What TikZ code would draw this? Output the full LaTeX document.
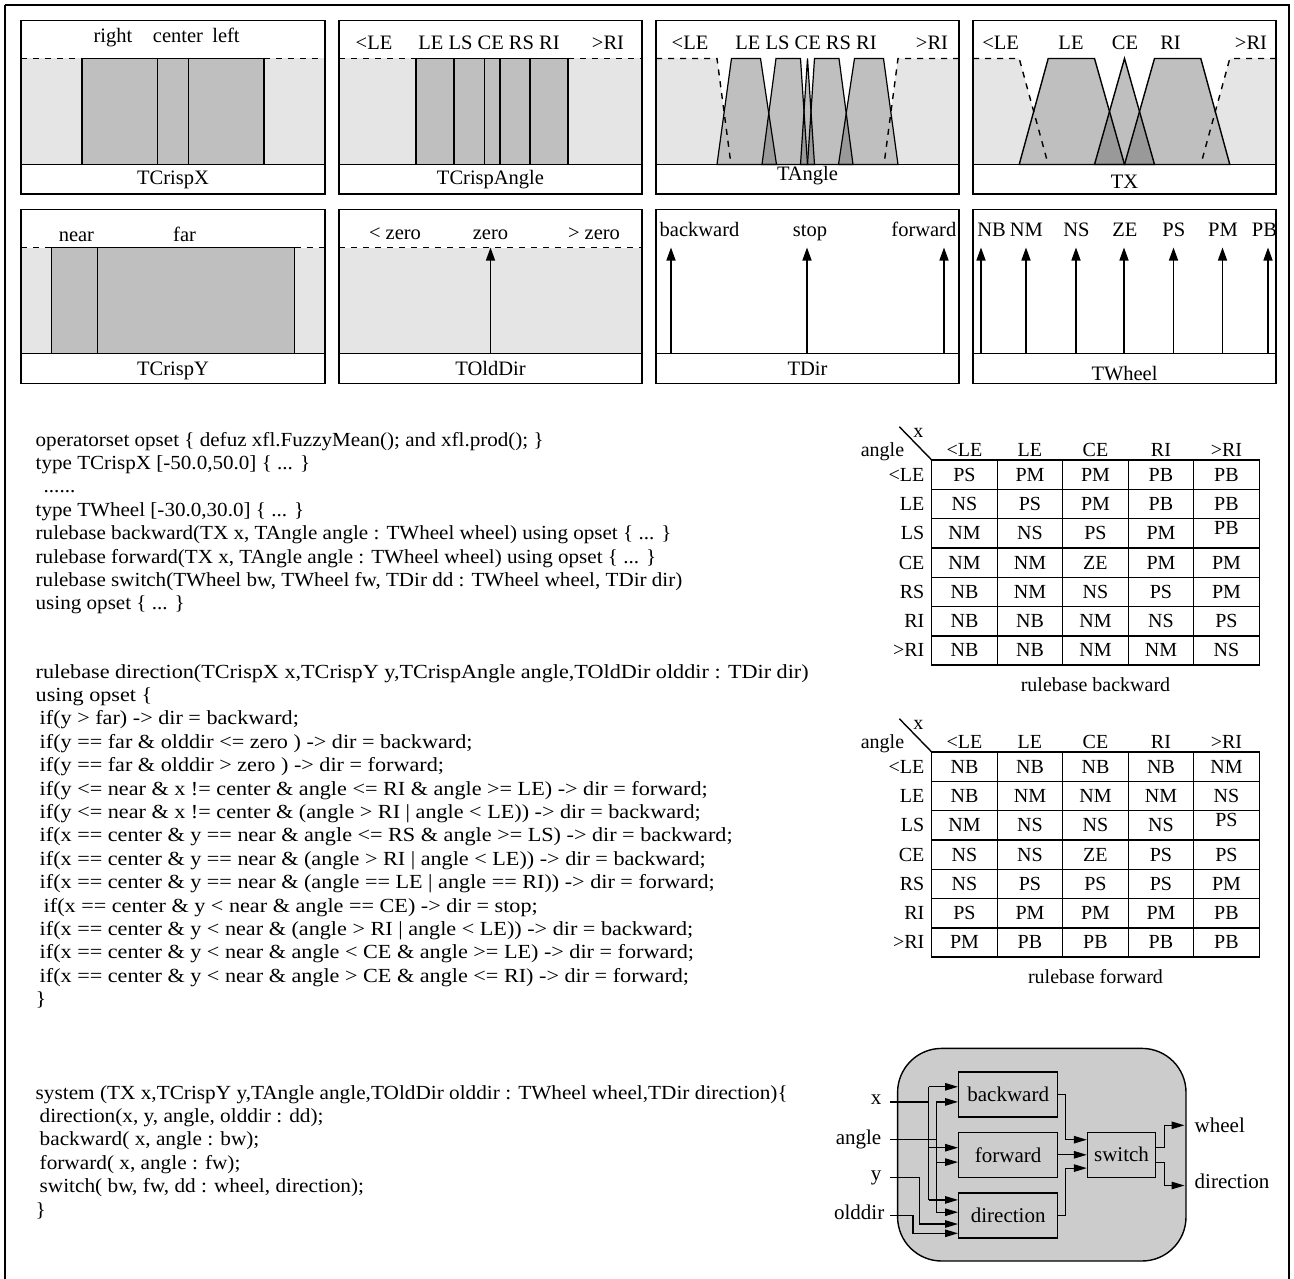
\documentclass[tikz,border=0pt]{standalone}
\usepackage{fontspec}
\setmainfont{Liberation Serif}
\usepackage{graphicx}
\usetikzlibrary{arrows.meta}
\definecolor{lgrey}{gray}{0.9}
\definecolor{mgrey}{gray}{0.75}
\definecolor{dgrey}{gray}{0.6}
\definecolor{bgrey}{gray}{0.8}
\newlength\mylenA
\newlength\mylenB
\newlength\mylenC
\newcommand\codeA[1]{\scalebox{\scA}[1]{#1}}
\newcommand\codeB[1]{\scalebox{\scB}[1]{#1}}
\newcommand\codeC[1]{\scalebox{\scC}[1]{#1}}
\AtBeginDocument{%
  \settowidth\mylenA{\rmfamily\fontsize{20}{24}\selectfont operatorset opset \{ defuz xfl.FuzzyMean(); and xfl.prod(); \}}%
  \settowidth\mylenB{\rmfamily\fontsize{20}{24}\selectfont rulebase direction(TCrispX x,TCrispY y,TCrispAngle angle,TOldDir olddir : TDir dir)}%
  \settowidth\mylenC{\rmfamily\fontsize{20}{24}\selectfont system (TX x,TCrispY y,TAngle angle,TOldDir olddir : TWheel wheel,TDir direction)\{}%
  \ifdim\mylenA<1pt \mylenA=508pt\fi
  \ifdim\mylenB<1pt \mylenB=773pt\fi
  \ifdim\mylenC<1pt \mylenC=752pt\fi
  \pgfmathsetmacro\scA{508/\mylenA}%
  \pgfmathsetmacro\scB{773/\mylenB}%
  \pgfmathsetmacro\scC{752/\mylenC}%
}
\begin{document}
\begin{tikzpicture}[x=1pt,y=-1pt,line width=1.4pt,
  every node/.style={inner sep=0pt, font=\fontsize{20}{24}\selectfont},
  pfont/.style={font=\fontsize{20.5}{24}\selectfont},
  dsh/.style={dash pattern=on 6pt off 6pt},
  mf/.style={fill=mgrey, draw=black},
  parr/.style={-{Triangle[length=13pt,width=9pt]}},
  barr/.style={-{Triangle[length=13pt,width=7.5pt]}},
  lb/.style={anchor=base, pfont},
  tb/.style={anchor=base},
  code/.style={anchor=base west},
  bfont/.style={font=\fontsize{21}{24}\selectfont},
  blk/.style={draw, fill=bgrey, minimum width=99pt, minimum height=45pt, inner sep=0pt, bfont}]
\useasboundingbox (0,0) rectangle (1294,1279);
\draw (5,5) -- (5,1290) (5,5) -- (1289,5) -- (1289,1290);

% ---------------- TCrispX
\fill[lgrey] (21,58.5) rectangle (325,164.5);
\draw[mf] (82,58.5) rectangle (157.5,164.5);
\draw[mf] (157.5,58.5) rectangle (188.5,164.5);
\draw[mf] (188.5,58.5) rectangle (264,164.5);
\draw[dsh] (21,58.5) -- (82,58.5) (264,58.5) -- (325,58.5);
\draw (21,20.5) rectangle (325,194) (21,164.5) -- (325,164.5);
\node[lb] (p1a) at (113,43) {right};
\node[lb] (p1b) at (178,43) {center};
\node[lb] (p1c) at (226,43) {left};
\node[lb] (p1t) at (173,185) {TCrispX};

% ---------------- TCrispAngle
\fill[lgrey] (339,58.5) rectangle (642,164.5);
\foreach \a/\b in {416/454,454/484.5,484.5/500,500/530,530/568}
  \draw[mf] (\a,58.5) rectangle (\b,164.5);
\draw[dsh] (339,58.5) -- (416,58.5) (568,58.5) -- (642,58.5);
\draw (339,20.5) rectangle (642,194) (339,164.5) -- (642,164.5);
\node[lb] (p2a) at (374,49.5) {<LE};
\node[lb] (p2b) at (489,49.5) {LE LS CE RS RI};
\node[lb] (p2c) at (608,49.5) {>RI};
\node[lb] (p2t) at (490.5,185) {TCrispAngle};

% ---------------- TAngle
\def\paLE{(717,164.5) -- (731.5,58.5) -- (760.5,58.5) -- (776.5,164.5) -- cycle}
\def\paLS{(762,164.5) -- (776,58.5) -- (800.5,58.5) -- (807.5,164.5) -- cycle}
\def\paCE{(800.5,164.5) -- (807.5,58.5) -- (814.5,164.5) -- cycle}
\def\paRS{(807.5,164.5) -- (814.5,58.5) -- (839,58.5) -- (853,164.5) -- cycle}
\def\paRI{(838.5,164.5) -- (854.5,58.5) -- (883.5,58.5) -- (898,164.5) -- cycle}
\fill[lgrey] (656,58.5) -- (717,58.5) -- (731,164.5) -- (656,164.5) -- cycle;
\fill[lgrey] (959,58.5) -- (898,58.5) -- (884,164.5) -- (959,164.5) -- cycle;
\fill[mgrey] \paLE; \fill[mgrey] \paLS; \fill[mgrey] \paCE; \fill[mgrey] \paRS; \fill[mgrey] \paRI;
\begin{scope}\clip \paLE; \fill[dgrey] \paLS; \end{scope}
\begin{scope}\clip \paLS; \fill[dgrey] \paCE; \end{scope}
\begin{scope}\clip \paCE; \fill[dgrey] \paRS; \end{scope}
\begin{scope}\clip \paRS; \fill[dgrey] \paRI; \end{scope}
\draw[line width=1.2pt] \paLE; \draw[line width=1.2pt] \paLS; \draw[line width=1.2pt] \paCE; \draw[line width=1.2pt] \paRS; \draw[line width=1.2pt] \paRI;
\draw[dsh] (656,58.5) -- (717,58.5) -- (731,164.5);
\draw[dsh] (959,58.5) -- (898,58.5) -- (884,164.5);
\draw (656,20.5) rectangle (959,194) (656,164.5) -- (959,164.5);
\node[lb] (p3a) at (690,49.5) {<LE};
\node[lb] (p3b) at (806,49.5) {LE LS CE RS RI};
\node[lb] (p3c) at (932,49.5) {>RI};
\node[lb] (p3t) at (807.5,181) {TAngle};

% ---------------- TX
\def\pbLE{(1019.2,164.5) -- (1048.2,58.5) -- (1094.5,58.5) -- (1124.5,164.5) -- cycle}
\def\pbCE{(1094.5,164.5) -- (1124.5,58.5) -- (1154.5,164.5) -- cycle}
\def\pbRI{(1124.5,164.5) -- (1154.5,58.5) -- (1200.8,58.5) -- (1229.8,164.5) -- cycle}
\fill[lgrey] (973,58.5) -- (1019.2,58.5) -- (1048.2,164.5) -- (973,164.5) -- cycle;
\fill[lgrey] (1276,58.5) -- (1229.8,58.5) -- (1200.8,164.5) -- (1276,164.5) -- cycle;
\fill[mgrey] \pbLE; \fill[mgrey] \pbCE; \fill[mgrey] \pbRI;
\begin{scope}\clip \pbLE; \fill[dgrey] \pbCE; \end{scope}
\begin{scope}\clip \pbCE; \fill[dgrey] \pbRI; \end{scope}
\draw \pbLE; \draw \pbCE; \draw \pbRI;
\draw[dsh] (973,58.5) -- (1019.2,58.5) -- (1048.2,164.5);
\draw[dsh] (1276,58.5) -- (1229.8,58.5) -- (1200.8,164.5);
\draw (973,20.5) rectangle (1276,194) (973,164.5) -- (1276,164.5);
\node[lb] (p4a) at (1000.7,49.5) {<LE};
\node[lb] (p4b) at (1071,49.5) {LE};
\node[lb] (p4c) at (1125,49.5) {CE};
\node[lb] (p4d) at (1170.5,49.5) {RI};
\node[lb] (p4e) at (1251,49.5) {>RI};
\node[lb] (p4t) at (1124.5,189) {TX};

% ---------------- TCrispY
\fill[lgrey] (21,247.5) rectangle (325,353.5);
\draw[mf] (51.4,247.5) rectangle (97.2,353.5);
\draw[mf] (97.2,247.5) rectangle (294.6,353.5);
\draw[dsh] (21,247.5) -- (51.4,247.5) (294.6,247.5) -- (325,247.5);
\draw (21,209.5) rectangle (325,383.5) (21,353.5) -- (325,353.5);
\node[lb] (p5a) at (76.4,241.5) {near};
\node[lb] (p5b) at (184.6,241.5) {far};
\node[lb] (p5t) at (173,375) {TCrispY};

% ---------------- TOldDir
\fill[lgrey] (339,247.5) rectangle (642,353.5);
\draw[dsh] (339,247.5) -- (642,247.5);
\draw[parr] (490.5,353.5) -- (490.5,247.5);
\draw (339,209.5) rectangle (642,383.5) (339,353.5) -- (642,353.5);
\node[lb] (p6a) at (395,239) {< zero};
\node[lb] (p6b) at (490.5,239) {zero};
\node[lb] (p6c) at (594,239) {> zero};
\node[lb] (p6t) at (490.5,375) {TOldDir};

% ---------------- TDir
\foreach \xx in {671,807,944} \draw[parr] (\xx,353.5) -- (\xx,247.5);
\draw (656,209.5) rectangle (959,383.5) (656,353.5) -- (959,353.5);
\node[anchor=base west, pfont] (p7a) at (659,236.5) {backward};
\node[lb] (p7b) at (810,236.5) {stop};
\node[anchor=base east, pfont] (p7c) at (957,236.5) {forward};
\node[lb] (p7t) at (807.5,375) {TDir};

% ---------------- TWheel
\foreach \xx in {981,1026,1076,1124,1173.5,1222.5,1268} \draw[parr] (\xx,353.5) -- (\xx,247.5);
\draw (973,209.5) rectangle (1276,383.5) (973,353.5) -- (1276,353.5);
\foreach \l/\xx [count=\i] in {NB/991.6,NM/1026.4,NS/1076.5,ZE/1124.9,PS/1173.8,PM/1223,PB/1264.5}
  \node[lb] (p8-\i) at (\xx,236.5) {\l};
\node[lb] (p8t) at (1124.5,380) {TWheel};

% ---------------- code
\node[code] (c1) at (35,446) {\codeA{operatorset opset \{ defuz xfl.FuzzyMean(); and xfl.prod(); \}}};
\node[code] (c2) at (35,469.4) {\codeA{type TCrispX [-50.0,50.0] \{ ... \}}};
\node[code] (c3) at (43,492.8) {\codeA{......}};
\node[code] (c4) at (35,516.2) {\codeA{type TWheel [-30.0,30.0] \{ ... \}}};
\node[code] (c5) at (35,539.6) {\codeA{rulebase backward(TX x, TAngle angle : TWheel wheel) using opset \{ ... \}}};
\node[code] (c6) at (35,563) {\codeA{rulebase forward(TX x, TAngle angle : TWheel wheel) using opset \{ ... \}}};
\node[code] (c7) at (35,586.4) {\codeA{rulebase switch(TWheel bw, TWheel fw, TDir dd : TWheel wheel, TDir dir)}};
\node[code] (c8) at (35,609.8) {\codeA{using opset \{ ... \}}};

\node[code] (d1) at (35,678) {\codeB{rulebase direction(TCrispX x,TCrispY y,TCrispAngle angle,TOldDir olddir : TDir dir)}};
\node[code] (d2) at (35,701.4) {\codeB{using opset \{}};
\node[code] (d3) at (39,724.8) {\codeB{if(y > far) -> dir = backward;}};
\node[code] (d4) at (39,748.2) {\codeB{if(y == far \& olddir <= zero ) -> dir = backward;}};
\node[code] (d5) at (39,771.6) {\codeB{if(y == far \& olddir > zero ) -> dir = forward;}};
\node[code] (d6) at (39,795) {\codeB{if(y <= near \& x != center \& angle <= RI \& angle >= LE) -> dir = forward;}};
\node[code] (d7) at (39,818.4) {\codeB{if(y <= near \& x != center \& (angle > RI | angle < LE)) -> dir = backward;}};
\node[code] (d8) at (39,841.8) {\codeB{if(x == center \& y == near \& angle <= RS \& angle >= LS) -> dir = backward;}};
\node[code] (d9) at (39,865.2) {\codeB{if(x == center \& y == near \& (angle > RI | angle < LE)) -> dir = backward;}};
\node[code] (d10) at (39,888.6) {\codeB{if(x == center \& y == near \& (angle == LE | angle == RI)) -> dir = forward;}};
\node[code] (d11) at (43,912) {\codeB{if(x == center \& y < near \& angle == CE) -> dir = stop;}};
\node[code] (d12) at (39,935.4) {\codeB{if(x == center \& y < near \& (angle > RI | angle < LE)) -> dir = backward;}};
\node[code] (d13) at (39,958.8) {\codeB{if(x == center \& y < near \& angle < CE \& angle >= LE) -> dir = forward;}};
\node[code] (d14) at (39,982.2) {\codeB{if(x == center \& y < near \& angle > CE \& angle <= RI) -> dir = forward;}};
\node[code] (d15) at (35,1005.6) {\codeB{\}}};

\node[code] (s1) at (35,1099) {\codeC{system (TX x,TCrispY y,TAngle angle,TOldDir olddir : TWheel wheel,TDir direction)\{}};
\node[code] (s2) at (39,1122.4) {\codeC{direction(x, y, angle, olddir : dd);}};
\node[code] (s3) at (39,1145.8) {\codeC{backward( x, angle : bw);}};
\node[code] (s4) at (39,1169.2) {\codeC{forward( x, angle : fw);}};
\node[code] (s5) at (39,1192.6) {\codeC{switch( bw, fw, dd : wheel, direction);}};
\node[code] (s6) at (35,1216) {\codeC{\}}};

% ---------------- tables
\foreach \oy/\tn/\cap in {0/bk/{rulebase backward},292/fw/{rulebase forward}} {
  \draw (931.7,460+\oy) rectangle (1259.2,665.1+\oy);
  \foreach \r in {1,...,6} \draw (931.7,{460+\oy+29.3*\r}) -- (1259.2,{460+\oy+29.3*\r});
  \foreach \c in {1,...,4} \draw ({931.7+65.5*\c},460+\oy) -- ({931.7+65.5*\c},665.1+\oy);
  \draw (899.3,426.7+\oy) -- (931.7,460+\oy);
  \node[tb] (\tn-ang) at (882.5,456.5+\oy) {angle};
  \node[tb] (\tn-x) at (918.3,437+\oy) {x};
  \foreach \l [count=\c] in {<LE,LE,CE,RI,>RI}
    \node[tb] (\tn-h\c) at ({931.7+65.5*(\c-0.5)},456.5+\oy) {\l};
  \foreach \l [count=\r] in {<LE,LE,LS,CE,RS,RI,>RI}
    \node[anchor=base east] (\tn-r\r) at (925,{460+\oy+29.3*(\r-0.5)+6.5}) {\l};
  \node[tb] (\tn-cap) at (1095.5,691+\oy) {\cap};
}
\foreach \row [count=\r] in {{PS,PM,PM,PB,PB},{NS,PS,PM,PB,PB},{NM,NS,PS,PM,PB},{NM,NM,ZE,PM,PM},{NB,NM,NS,PS,PM},{NB,NB,NM,NS,PS},{NB,NB,NM,NM,NS}}
  \foreach \v [count=\c] in \row {
    \pgfmathsetmacro\dy{(\r==3 && \c==5) ? -5 : 0}
    \node[tb] (bk-\r-\c) at ({931.7+65.5*(\c-0.5)},{460+29.3*(\r-0.5)+6.5+\dy}) {\v};
  }
\foreach \row [count=\r] in {{NB,NB,NB,NB,NM},{NB,NM,NM,NM,NS},{NM,NS,NS,NS,PS},{NS,NS,ZE,PS,PS},{NS,PS,PS,PS,PM},{PS,PM,PM,PM,PB},{PM,PB,PB,PB,PB}}
  \foreach \v [count=\c] in \row {
    \pgfmathsetmacro\dy{(\r==3 && \c==5) ? -5 : 0}
    \node[tb] (fw-\r-\c) at ({931.7+65.5*(\c-0.5)},{752+29.3*(\r-0.5)+6.5+\dy}) {\v};
  }

% ---------------- block diagram
\draw[fill=bgrey, rounded corners=44pt] (897.6,1048.4) rectangle (1186,1261);
\node[blk] (bw) at (1008.2,1094.4) {backward};
\node[blk] (fw) at (1008.2,1154.8) {forward};
\node[blk] (dr) at (1008.2,1215.5) {direction};
\node[blk, minimum width=68pt] (sw) at (1121.5,1154.8) {switch};
\node[anchor=base east, bfont] (lx) at (882,1104.5) {x};
\node[anchor=base east, bfont] (la) at (882,1144) {angle};
\node[anchor=base east, bfont] (ly) at (882,1180) {y};
\node[anchor=base east, bfont] (lo) at (885,1219.5) {olddir};
\node[anchor=base west, bfont] (lw) at (1194,1132) {wheel};
\node[anchor=base west, bfont] (ld) at (1194,1188) {direction};
\coordinate (ix) at (890.2,1101.9);
\coordinate (ia) at (890.2,1139.7);
\coordinate (iy) at (890.2,1177.1);
\coordinate (io) at (890.2,1215.6);
\coordinate (bx1) at (928.7,1086.8);
\coordinate (bx2) at (928.7,1147.7);
\coordinate (bx3) at (928.7,1199.9);
\coordinate (ba1) at (936.1,1101.9);
\coordinate (ba2) at (936.1,1162.1);
\coordinate (ba3) at (936.1,1212.2);
\coordinate (by) at (919.7,1224);
\coordinate (bo) at (913,1233.3);
\coordinate (o1) at (1065.8,1139.7);
\coordinate (o3) at (1065.8,1168.1);
\coordinate (q1) at (1164.5,1125.3);
\coordinate (q2) at (1164.5,1185.5);
\coordinate (e1) at (1184.5,1125.3);
\coordinate (e2) at (1184.5,1185.5);
\begin{scope}[line width=1.2pt]
\draw (ix) -- (ix -| bx1);
\draw (bx1) -- (bx3);
\draw[barr] (bx1) -- (bx1 -| bw.west);
\draw[barr] (bx2) -- (bx2 -| fw.west);
\draw[barr] (bx3) -- (bx3 -| dr.west);
\draw (ia) -- (ia -| ba1);
\draw (ba1) -- (ba3);
\draw[barr] (ba1) -- (ba1 -| bw.west);
\draw[barr] (ba2) -- (ba2 -| fw.west);
\draw[barr] (ba3) -- (ba3 -| dr.west);
\draw[barr] (iy) -| (by) -- (by -| dr.west);
\draw[barr] (io) -| (bo) -- (bo -| dr.west);
\draw[barr] (bw.east) -| (o1) -- (o1 -| sw.west);
\draw[barr] (fw.east) -- (sw.west);
\draw[barr] (dr.east) -| (o3) -- (o3 -| sw.west);
\draw[barr] ([yshift=7pt]sw.east) -| (q1) -- (e1);
\draw[barr] ([yshift=-8pt]sw.east) -| (q2) -- (e2);
\end{scope}
\end{tikzpicture}
\end{document}
